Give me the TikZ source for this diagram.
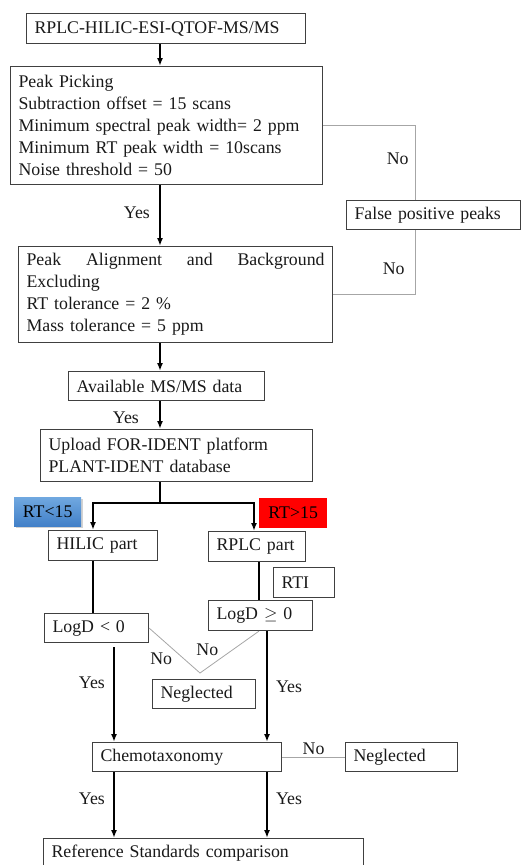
\documentclass[tikz,border=0pt]{standalone}
\usepackage{fontspec}
\setmainfont{Liberation Serif}
\usetikzlibrary{arrows.meta,shadows}

\begin{document}
\begin{tikzpicture}[
  x=1pt,y=-1pt,
  font=\fontsize{17.8}{22}\selectfont,
  box/.style={draw=black!75,line width=1.1pt,anchor=north west,inner xsep=8pt,inner ysep=0pt,align=left,text=black!90},
  arrow/.style={-{Latex[length=8pt,width=6pt]},line width=2.3pt},
  trunkline/.style={line width=2.3pt},
  link/.style={draw=black!35,line width=0.8pt},
  lbl/.style={text=black!90,inner sep=2pt},
  bluetag/.style={anchor=north west,inner xsep=8pt,minimum width=67pt,minimum height=29pt,top color={rgb,255:red,112;green,168;blue,224},bottom color={rgb,255:red,66;green,128;blue,200},drop shadow={opacity=0.35,shadow xshift=1.5pt,shadow yshift=-1.5pt}},
  redtag/.style={anchor=north west,inner xsep=8pt,minimum width=68pt,minimum height=30pt,fill=red}
]
\useasboundingbox (0,0) rectangle (521,865);
\clip (0,0) rectangle (521,865);

% columns used by the connectors
\coordinate (trunk) at (160,0);
\coordinate (fcol) at (415,0);
\coordinate (colA) at (93,0);
\coordinate (colB) at (114,0);
\coordinate (colC) at (254,0);
\coordinate (colD) at (259,0);
\coordinate (colE) at (267,0);
\coordinate (vtip) at (200,673);

\node[box,text width=263pt,minimum height=30pt] (src) at (26,13) {RPLC-HILIC-ESI-QTOF-MS/MS};
\node[box,text width=296pt,minimum height=118pt] (pick) at (10,66) {Peak Picking\\Subtraction offset = 15 scans\\Minimum spectral peak width= 2 ppm\\Minimum RT peak width = 10scans\\Noise threshold = 50};
\node[box,text width=158pt,minimum height=29pt] (fpos) at (346,200) {False positive peaks};
\node[box,text width=298pt,minimum height=96pt] (align) at (18,246) {Peak\hfill Alignment\hfill and\hfill Background\\Excluding\\RT tolerance = 2 \%\\Mass tolerance = 5 ppm};
\node[box,text width=180pt,minimum height=29pt] (msms) at (68,371) {Available MS/MS data};
\node[box,text width=256pt,minimum height=52pt] (upload) at (40,429) {Upload FOR-IDENT platform\\PLANT-IDENT database};

\node[bluetag] (rtlow) at (14,497) {RT<15};
\node[redtag] (rthigh) at (259,498) {RT>15};

\node[box,text width=93pt,minimum height=30pt] (hilic) at (48,530) {HILIC part};
\node[box,text width=81pt,minimum height=30pt] (rplc) at (208,531) {RPLC part};
\node[box,text width=45pt,minimum height=30pt] (rti) at (273,567) {RTI};
\node[box,text width=88pt,minimum height=29pt] (logdneg) at (44,613) {LogD < 0};
\node[box,text width=88pt,minimum height=30pt] (logdpos) at (208,600) {LogD $\geq$ 0};
\node[box,text width=87pt,minimum height=29pt] (negl1) at (152,679) {Neglected};
\node[box,text width=173pt,minimum height=29pt] (chemo) at (92,742) {Chemotaxonomy};
\node[box,text width=96pt,minimum height=29pt] (negl2) at (345,742) {Neglected};
\node[box,text width=304pt,minimum height=30pt] (refstd) at (43,838) {Reference Standards comparison};

% main flow
\draw[arrow] (src.south -| trunk) -- (pick.north -| trunk);
\draw[arrow] (pick.south -| trunk) -- node[lbl,left=7pt,pos=0.45]{Yes} (align.north -| trunk);
\draw[arrow] (align.south -| trunk) -- (msms.north -| trunk);
\draw[arrow] (msms.south -| trunk) -- node[lbl,left=18pt,pos=0.6]{Yes} (upload.north -| trunk);
\draw[trunkline] (upload.south -| trunk) -- ++(0,21) coordinate (split);
\draw[arrow] (split) -| (hilic.north -| colA);
\draw[arrow] (split) -| (rplc.north -| colC);
\draw[trunkline] (hilic.south -| colA) -- (logdneg.north -| colA);
\draw[trunkline] (rplc.south -| colD) -- (logdpos.north -| colD);
\draw[arrow,shorten <=4pt] (logdneg.south -| colB) -- node[lbl,left=6pt,pos=0.4]{Yes} (chemo.north -| colB);
\draw[arrow] (logdpos.south -| colE) -- node[lbl,right=6pt,pos=0.5]{Yes} (chemo.north -| colE);
\draw[arrow] (chemo.south -| colB) -- node[lbl,left=6pt,pos=0.4]{Yes} (refstd.north -| colB);
\draw[arrow] (chemo.south -| colE) -- node[lbl,right=6pt,pos=0.4]{Yes} (refstd.north -| colE);

% rejections
\draw[link] (pick.east) -| node[lbl,left=4pt,pos=0.72]{No} (fpos.north -| fcol);
\draw[link] (fpos.south -| fcol) |- node[lbl,left=8pt,pos=0.3]{No} (align.east);
\draw[link] (logdneg.east) -- node[lbl,below left,pos=0.5]{No} (vtip) -- node[lbl,above left,pos=0.35]{No} (logdpos.south -| colD);
\draw[link] (chemo.east) -- node[lbl,above]{No} (negl2.west);
\end{tikzpicture}
\end{document}
